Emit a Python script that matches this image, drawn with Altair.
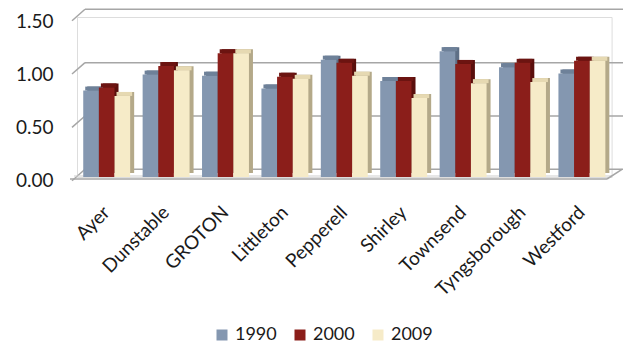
import altair as alt
import pandas as pd

towns = ["Ayer", "Dunstable", "GROTON", "Littleton", "Pepperell", "Shirley",
         "Townsend", "Tyngsborough", "Westford"]
years = ["1990", "2000", "2009"]
v1990 = [0.81, 0.96, 0.95, 0.83, 1.10, 0.90, 1.18, 1.03, 0.97]
v2000 = [0.84, 1.04, 1.16, 0.94, 1.07, 0.90, 1.06, 1.07, 1.09]
v2009 = [0.76, 1.00, 1.16, 0.92, 0.95, 0.74, 0.88, 0.89, 1.09]
ticks = [0.0, 0.5, 1.0, 1.5]

front_colors = ["#8497b0", "#8b1e1a", "#f6ebc8"]
top_colors = ["#6e8199", "#6c1411", "#e6d9b2"]
side_colors = ["#5e6f86", "#5a0f0c", "#b4a989"]

rows = []
for i, t in enumerate(towns):
    for y, vals in zip(years, [v1990, v2000, v2009]):
        rows.append({"town": t, "year": y, "value": vals[i]})
df = pd.DataFrame(rows)
grid_df = pd.DataFrame({"value": ticks})
floor_df = pd.DataFrame({"value": [0.0]})

FONT = "Lato"
W, H = 534.6, 160
BACK = -7.7
P_IN, P_OUT = 0.21, 0.105
BW = W / (len(towns) - P_IN + 2 * P_OUT) * (1 - P_IN)

xenc = alt.X("town:N", sort=towns,
             scale=alt.Scale(paddingInner=P_IN, paddingOuter=P_OUT),
             axis=alt.Axis(title=None, labelAngle=-45, labelAlign="right",
                           labelBaseline="middle", labelFontSize=19, labelFont=FONT,
                           labelColor="#1a1a1a", ticks=False, domain=False,
                           labelPadding=32, grid=False))
yscale = alt.Scale(domain=[0, 1.5], nice=False)
yaxis = alt.Axis(title=None, values=ticks, format=".2f", labelFontSize=19,
                 labelFont=FONT, labelColor="#1a1a1a", domain=False,
                 ticks=False, grid=False, labelPadding=24, labelOffset=4)


def yenc():
    return alt.Y("value:Q", scale=yscale, axis=yaxis)


def xoff(shift):
    return alt.XOffset("year:N", sort=years,
                       scale=alt.Scale(range=[shift, shift + BW]))

grid = alt.Chart(grid_df).mark_rule(color="#a6a6a6", strokeWidth=1.5, yOffset=BACK).encode(
    y=yenc(), x=alt.value(8), x2=alt.value(546))

diag = alt.Chart(grid_df).mark_rule(color="#a6a6a6", strokeWidth=1.5,
                                    yOffset=3.7, y2Offset=BACK).encode(
    y=yenc(), y2="value:Q", x=alt.value(-5), x2=alt.value(8))

floor_front = alt.Chart(floor_df).mark_rule(color="#a6a6a6", strokeWidth=1.5, yOffset=2).encode(
    y=yenc(), x=alt.value(-7), x2=alt.value(530))
floor_mid = alt.Chart(floor_df).mark_rule(color="#d0d0d0", strokeWidth=1, yOffset=-1).encode(
    y=yenc(), x=alt.value(-3), x2=alt.value(534))
floor_right = alt.Chart(floor_df).mark_rule(color="#a6a6a6", strokeWidth=1.5,
                                            yOffset=2, y2Offset=BACK).encode(
    y=yenc(), y2="value:Q", x=alt.value(530), x2=alt.value(545))

side = alt.Chart(df).mark_bar(yOffset=-4, y2Offset=-4).encode(
    x=xenc, xOffset=xoff(4), y=yenc(), y2=alt.Y2(datum=0),
    color=alt.Color("year:N", scale=alt.Scale(domain=years, range=side_colors), legend=None))

top = alt.Chart(df).mark_bar(yOffset=-4, y2Offset=0).encode(
    x=xenc, xOffset=xoff(2), y=yenc(), y2="value:Q",
    color=alt.Color("year:N", scale=alt.Scale(domain=years, range=top_colors), legend=None))

front = alt.Chart(df).mark_bar().encode(
    x=xenc, xOffset=xoff(0), y=yenc(),
    color=alt.Color("year:N", scale=alt.Scale(domain=years, range=front_colors),
                    legend=alt.Legend(title=None, orient="none", legendX=136, legendY=309,
                                      direction="horizontal", symbolType="square",
                                      symbolSize=121, symbolStrokeWidth=0,
                                      labelFontSize=18, labelFont=FONT, labelColor="#1a1a1a",
                                      labelOffset=4, columnPadding=14, padding=0)))

chart = alt.layer(grid, diag, floor_mid, floor_front, floor_right, side, top, front).resolve_scale(
    color="independent", xOffset="independent").properties(
    width=W, height=H,
    autosize=alt.AutoSizeParams(type="none"),
    padding={"left": 77, "top": 17, "right": 11, "bottom": 166},
).configure_view(stroke=None).configure(background="white")

chart.save("out.html", embed_options={"renderer": "svg", "actions": False})
